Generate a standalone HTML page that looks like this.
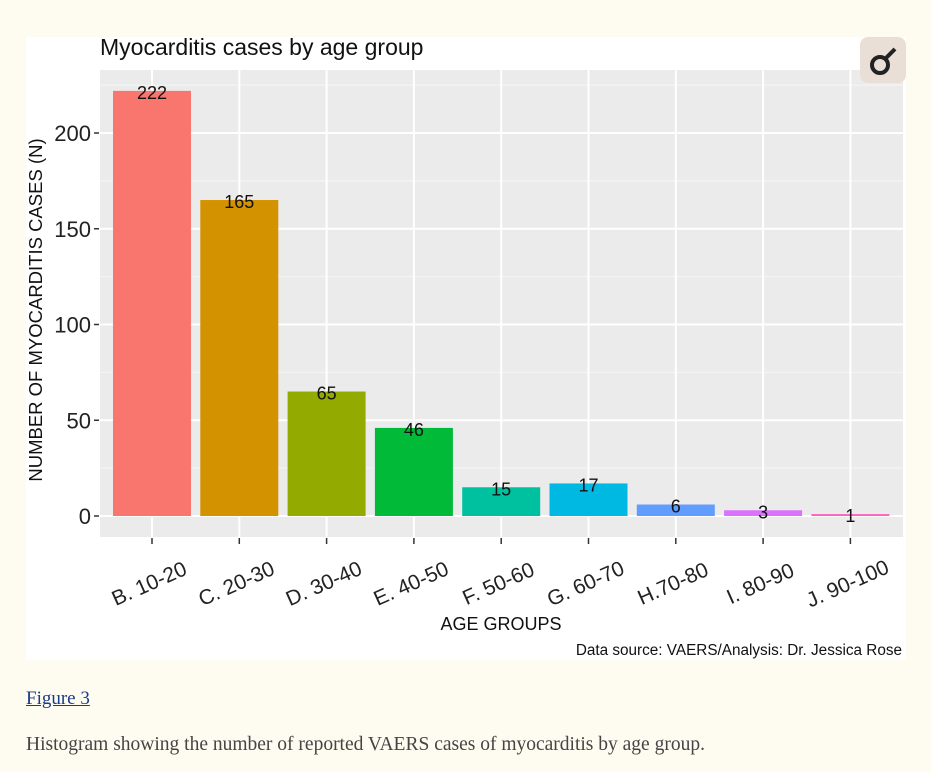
<!DOCTYPE html>
<html><head><meta charset="utf-8"><style>
body{margin:0;background:#fefcf0;width:931px;height:772px;overflow:hidden;font-family:"Liberation Sans",sans-serif}
svg{position:absolute;left:0;top:0}
.cap{position:absolute;left:26px;font-family:"Liberation Serif",serif;font-size:19.5px;color:#444}
</style></head><body>
<svg width="931" height="772">
<rect x="26" y="37" width="880" height="623" fill="#fff"/>
<rect x="100" y="70" width="803" height="467" fill="#ebebeb"/>
<g id="grid"></g><g id="bars"></g><g id="axes"></g>
<text x="100" y="55" font-size="23" fill="#111">Myocarditis cases by age group</text>
<text transform="translate(42,310) rotate(-90)" text-anchor="middle" font-size="18.5" fill="#111">NUMBER OF MYOCARDITIS CASES (N)</text>
<text x="501" y="630" text-anchor="middle" font-size="18" fill="#111">AGE GROUPS</text>
<text x="902" y="655" text-anchor="end" font-size="15.3" fill="#111">Data source: VAERS/Analysis: Dr. Jessica Rose</text>
<g>
<rect x="860" y="37" width="46" height="46" rx="8" fill="#eadfd6"/>
<circle cx="880" cy="65" r="8" fill="none" stroke="#222" stroke-width="4"/>
<line x1="886" y1="58" x2="895" y2="49" stroke="#222" stroke-width="4"/>
</g>
</svg>
<a class="cap" style="top:688px;color:#1a3a8a;text-decoration:underline;font-size:19px">Figure 3</a>
<div class="cap" style="top:734px">Histogram showing the number of reported VAERS cases of myocarditis by age group.</div>
<script>
const categories=["B. 10-20","C. 20-30","D. 30-40","E. 40-50","F. 50-60","G. 60-70","H.70-80","I. 80-90","J. 90-100"];
const values=[222,165,65,46,15,17,6,3,1];
const colors=["#f8766d","#d39200","#93aa00","#00ba38","#00c19f","#00b9e3","#619cff","#db72fb","#ff61c3"];
const yTicks=[0,50,100,150,200];
const yMinor=[25,75,125,175,225];
const NS="http://www.w3.org/2000/svg";
const y=v=>516-v*1.915;
const x=i=>152+i*87.3;
const bw=78;
function mk(tag,attrs,parent){const e=document.createElementNS(NS,tag);for(const k in attrs)e.setAttribute(k,attrs[k]);document.getElementById(parent).appendChild(e);return e;}
yMinor.forEach(v=>{if(y(v)>70){const l=mk('line',{x1:100,x2:903,y1:y(v),y2:y(v),stroke:'#f6f6f6','stroke-width':1},'grid');

}});
yTicks.forEach(v=>{const l=mk('line',{x1:100,x2:903,y1:y(v),y2:y(v),stroke:'#fff','stroke-width':2},'grid');


const t=mk('line',{x1:94,x2:99,y1:y(v),y2:y(v),stroke:'#333','stroke-width':1.5},'axes');


const tx=mk('text',{x:91,y:y(v)+8,'text-anchor':'end','font-size':22,fill:'#222'},'axes');tx.textContent=v;

});
categories.forEach((c,i)=>{const l=mk('line',{x1:x(i),x2:x(i),y1:70,y2:537,stroke:'#fff','stroke-width':2},'grid');


const h=Math.max(values[i]*1.915,1.5);
const r=mk('rect',{x:x(i)-bw/2,y:y(values[i]),width:bw,height:h,fill:colors[i]},'bars');


const v=mk('text',{x:x(i),y:y(values[i])+8,'text-anchor':'middle','font-size':18,fill:'#111'},'bars');v.textContent=values[i];


const t=mk('line',{x1:x(i),x2:x(i),y1:538,y2:544,stroke:'#333','stroke-width':1.5},'axes');


const tx=mk('text',{transform:`translate(${x(i)},${590}) rotate(-24)`,'text-anchor':'middle','font-size':21,fill:'#222'},'axes');tx.textContent=c;

});
</script>
</body></html>
